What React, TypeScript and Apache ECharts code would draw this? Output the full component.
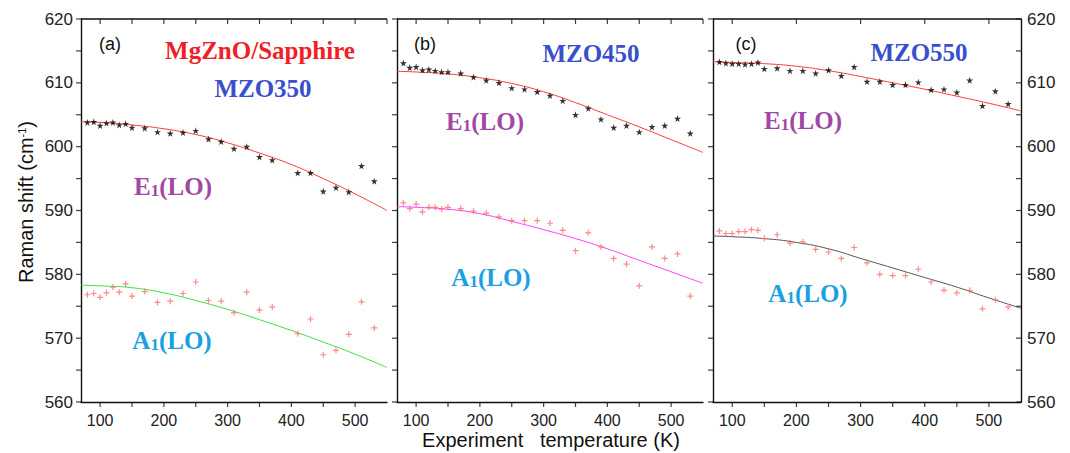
import React, { useEffect, useRef } from "react";
import * as echarts from "echarts";

// ---------- data ----------
const tempsA = [80, 90, 100, 110, 120, 130, 140, 150, 170, 190, 210, 230, 250, 270, 290, 310, 330, 350, 370, 410, 430, 450, 470, 490, 510, 530];
const temps = [80, 90, 100, 110, 120, 130, 140, 150, 170, 190, 210, 230, 250, 270, 290, 310, 330, 350, 370, 390, 410, 430, 450, 470, 490, 510, 530];
const fitTemps = [70, 100, 150, 200, 250, 300, 350, 400, 450, 500, 550];

const aE1 = [603.8, 603.9, 603.3, 603.7, 603.8, 603.4, 603.6, 603.0, 602.9, 602.3, 602.1, 602.2, 602.5, 601.2, 600.8, 599.7, 600.0, 598.4, 597.9, 595.9, 595.9, 593.0, 593.6, 592.9, 597.0, 594.6];
const aA1 = [576.8, 577.0, 576.4, 577.1, 578.0, 577.2, 578.5, 576.6, 577.3, 575.6, 575.8, 577.0, 578.8, 575.9, 575.8, 574.0, 577.2, 574.4, 574.9, 570.7, 573.0, 567.4, 568.1, 570.6, 575.7, 571.6];
const aE1Fit = [603.9, 603.8, 603.4, 602.8, 601.9, 600.6, 599.0, 597.2, 595.0, 592.6, 590.0];
const aA1Fit = [578.3, 578.2, 577.9, 577.1, 575.9, 574.5, 572.9, 571.2, 569.4, 567.5, 565.4];

const bE1 = [613.1, 612.4, 612.5, 612.0, 612.1, 611.9, 611.7, 611.7, 611.5, 610.9, 610.4, 610.0, 609.2, 609.0, 608.6, 608.0, 607.2, 605.0, 606.0, 604.3, 603.0, 603.3, 602.3, 603.1, 603.3, 604.4, 602.1];
const bA1 = [591.2, 590.3, 591.0, 589.8, 590.5, 590.5, 590.2, 590.5, 590.3, 589.9, 589.6, 589.0, 588.4, 588.4, 588.4, 588.0, 586.9, 583.7, 586.5, 584.3, 582.5, 581.6, 578.2, 584.3, 582.5, 583.2, 576.6];
const bE1Fit = [611.8, 611.7, 611.4, 610.8, 609.9, 608.6, 606.9, 605.0, 603.1, 601.1, 599.1];
const bA1Fit = [590.6, 590.5, 590.2, 589.5, 588.3, 587.0, 585.6, 584.0, 582.2, 580.4, 578.6];

const cE1 = [613.3, 613.1, 613.0, 613.0, 612.9, 613.0, 613.2, 612.2, 612.3, 611.9, 611.9, 611.5, 612.0, 611.1, 612.5, 610.2, 610.2, 609.7, 609.7, 610.1, 608.9, 609.0, 608.5, 610.4, 606.4, 608.7, 606.7];
const cA1 = [586.8, 586.4, 586.4, 586.7, 586.7, 587.0, 586.9, 585.6, 586.2, 584.9, 585.1, 583.9, 583.5, 582.5, 584.2, 581.8, 580.0, 579.8, 579.8, 580.8, 578.8, 577.5, 577.1, 577.5, 574.6, 576.0, 574.9];
const cE1Fit = [613.3, 613.2, 613.0, 612.6, 611.9, 611.0, 610.0, 609.0, 607.9, 606.8, 605.6];
const cA1Fit = [586.0, 585.9, 585.6, 585.0, 584.0, 582.5, 581.0, 579.5, 578.0, 576.3, 574.7];

const X_MIN = 70;
const X_MAX = 550;
const Y_MIN = 560;
const Y_MAX = 620;
const xTickLabels = [100, 200, 300, 400, 500];
const xTicks = [100, 150, 200, 250, 300, 350, 400, 450, 500];
const xTopTicksAB = [100, 150, 200, 250, 300, 350, 400, 450, 500, 550];
const xTopTicksC = [100, 200, 300, 400, 500];
const yTickLabels = [560, 570, 580, 590, 600, 610, 620];
const yTicks = [560, 565, 570, 575, 580, 585, 590, 595, 600, 605, 610, 615, 620];

const panelLetters = ["(a)", "(b)", "(c)"];
const sampleNames = ["MZO350", "MZO450", "MZO550"];
const fitColorsA1 = ["#3fe03f", "#ff40ff", "#555555"];

const STAR = "path://M50,0 L61,35 L98,35 L68,57 L79,91 L50,70 L21,91 L32,57 L2,35 L39,35 Z";
const PLUS = "path://M4,0H6V4H10V6H6V10H4V6H0V4H4Z";

const SANS = "Liberation Sans, Arial, sans-serif";
const SERIF = "Liberation Serif, Times New Roman, serif";

const zip = (xs: number[], ys: number[]) => xs.map((x, i) => [x, ys[i]]);

export default function App() {
  const ref = useRef<HTMLDivElement>(null);
  useEffect(() => {
    document.body.style.margin = "0";
    if (!ref.current) return;
    const chart = echarts.init(ref.current, null, { renderer: "svg" });

    const grids = [
      { left: 81, top: 19, width: 306, height: 383 },
      { left: 397, top: 19, width: 306, height: 383 },
      { left: 713, top: 19, width: 308, height: 383 },
    ];
    const mkLine = () => ({ show: true, onZero: false, lineStyle: { color: "#111", width: 1.4 } });
    const xAxis: any[] = [];
    const yAxis: any[] = [];
    grids.forEach((_, g) => {
      xAxis.push({
        type: "value", gridIndex: g, min: X_MIN, max: X_MAX, position: "bottom",
        axisLine: mkLine(), splitLine: { show: false }, axisTick: { show: false },
        axisLabel: { show: true, customValues: xTickLabels, fontSize: 16, color: "#222", fontFamily: SANS, margin: 10 },
      });
      yAxis.push({
        type: "value", gridIndex: g, min: Y_MIN, max: Y_MAX, interval: 10, position: "left",
        axisLine: mkLine(), splitLine: { show: false }, axisTick: { show: false },
        axisLabel: { show: g === 0, customValues: yTickLabels, fontSize: 17, color: "#222", fontFamily: SANS, margin: 8 },
      });
    });
    yAxis.push({
      type: "value", gridIndex: 2, min: Y_MIN, max: Y_MAX, interval: 10, position: "right",
      axisLine: mkLine(), splitLine: { show: false }, axisTick: { show: false },
      axisLabel: { show: true, customValues: yTickLabels, fontSize: 17, color: "#222", fontFamily: SANS, margin: 6 },
    });

    const panels = [
      { t: tempsA, e1: aE1, a1: aA1, e1f: aE1Fit, a1f: aA1Fit },
      { t: temps, e1: bE1, a1: bA1, e1f: bE1Fit, a1f: bA1Fit },
      { t: temps, e1: cE1, a1: cA1, e1f: cE1Fit, a1f: cA1Fit },
    ];
    const series: any[] = [];
    const TL = 5;
    const tickSeries = (g: number, data: number[][], vertical: boolean, offset: number[]) => ({
      type: "scatter", xAxisIndex: g, yAxisIndex: g, data, silent: true, clip: false, z: 6,
      symbol: "rect", symbolSize: vertical ? [1.2, TL] : [TL, 1.2], symbolOffset: offset,
      itemStyle: { color: "#111" }, tooltip: { show: false },
    });
    panels.forEach((p, g) => {
      series.push({
        type: "line", xAxisIndex: g, yAxisIndex: g, data: zip(fitTemps, p.e1f), smooth: true,
        symbol: "none", lineStyle: { color: "#ff3b3b", width: 1 }, z: 2,
      });
      series.push({
        type: "line", xAxisIndex: g, yAxisIndex: g, data: zip(fitTemps, p.a1f), smooth: true,
        symbol: "none", lineStyle: { color: fitColorsA1[g], width: 1 }, z: 2,
      });
      series.push({
        type: "scatter", xAxisIndex: g, yAxisIndex: g, data: zip(p.t, p.e1),
        symbol: STAR, symbolSize: 7, itemStyle: { color: "#000" }, z: 3,
      });
      series.push({
        type: "scatter", xAxisIndex: g, yAxisIndex: g, data: zip(p.t, p.a1),
        symbol: PLUS, symbolSize: 6, itemStyle: { color: "#ff6b6b" }, z: 3,
      });
      // top frame edge
      series.push({
        type: "line", xAxisIndex: g, yAxisIndex: g, data: [[X_MIN, Y_MAX], [X_MAX, Y_MAX]],
        symbol: "none", clip: false, silent: true, z: 6, lineStyle: { color: "#111", width: 1.4 },
      });
      // tick marks
      series.push(tickSeries(g, xTicks.map((v) => [v, Y_MIN]), true, [0, TL / 2]));
      series.push(tickSeries(g, (g === 2 ? xTopTicksC : xTopTicksAB).map((v) => [v, Y_MAX]), true, [0, TL / 2]));
      series.push(tickSeries(g, yTicks.map((v) => [X_MIN, v]), false, [-TL / 2, 0]));
      if (g === 2) series.push(tickSeries(g, yTicks.map((v) => [X_MAX, v]), false, [-TL / 2, 0]));
    });

    const richLabel = (color: string) => ({
      a: { fontFamily: SERIF, fontWeight: "bold", fontSize: 25, fill: color, lineHeight: 30, verticalAlign: "bottom" },
      s: { fontFamily: SERIF, fontWeight: "bold", fontSize: 17, fill: color, lineHeight: 30, verticalAlign: "bottom" },
    });
    const modeText = (x: number, y: number, letter: string, color: string) => ({
      type: "text", x, y,
      style: { text: `{a|${letter}}{s|1}{a|(LO)}`, rich: richLabel(color), fill: color, align: "center", verticalAlign: "middle" },
    });
    const E1C = "#a247a8";
    const A1C = "#1ba0e2";
    const graphic: any[] = [
      { type: "text", x: 260, y: 50, style: { text: "MgZnO/Sapphire", fill: "#ee1f26", font: `bold 25px ${SERIF}`, align: "center", verticalAlign: "middle" } },
      { type: "text", x: 263, y: 88, style: { text: sampleNames[0], fill: "#3a4fcc", font: `bold 25px ${SERIF}`, align: "center", verticalAlign: "middle" } },
      { type: "text", x: 591, y: 53, style: { text: sampleNames[1], fill: "#3a4fcc", font: `bold 25px ${SERIF}`, align: "center", verticalAlign: "middle" } },
      { type: "text", x: 919, y: 52, style: { text: sampleNames[2], fill: "#3a4fcc", font: `bold 25px ${SERIF}`, align: "center", verticalAlign: "middle" } },
      { type: "text", x: 110, y: 44, style: { text: panelLetters[0], fill: "#111", font: `18px ${SANS}`, align: "center", verticalAlign: "middle" } },
      { type: "text", x: 425, y: 44, style: { text: panelLetters[1], fill: "#111", font: `18px ${SANS}`, align: "center", verticalAlign: "middle" } },
      { type: "text", x: 746, y: 44, style: { text: panelLetters[2], fill: "#111", font: `18px ${SANS}`, align: "center", verticalAlign: "middle" } },
      modeText(173, 184, "E", E1C),
      modeText(485, 119, "E", E1C),
      modeText(803, 118, "E", E1C),
      modeText(172, 338, "A", A1C),
      modeText(491, 275, "A", A1C),
      modeText(808, 291, "A", A1C),
      {
        type: "text", x: 27, y: 202, rotation: Math.PI / 2,
        style: {
          text: "{n|Raman shift (cm}{p|-1}{n|)}",
          rich: {
            n: { fontFamily: SANS, fontSize: 20, fill: "#111", verticalAlign: "top", lineHeight: 22 },
            p: { fontFamily: SANS, fontSize: 11, fill: "#111", verticalAlign: "top", lineHeight: 22 },
          },
          align: "center", verticalAlign: "middle",
        },
      },
      { type: "text", x: 551, y: 440, style: { text: "Experiment   temperature (K)", fill: "#111", font: `20px ${SANS}`, align: "center", verticalAlign: "middle" } },
    ];

    chart.setOption({
      animation: false,
      backgroundColor: "#fff",
      grid: grids,
      xAxis, yAxis, series, graphic,
    });
    return () => chart.dispose();
  }, []);
  return <div ref={ref} style={{ width: 1070, height: 453 }} />;
}
